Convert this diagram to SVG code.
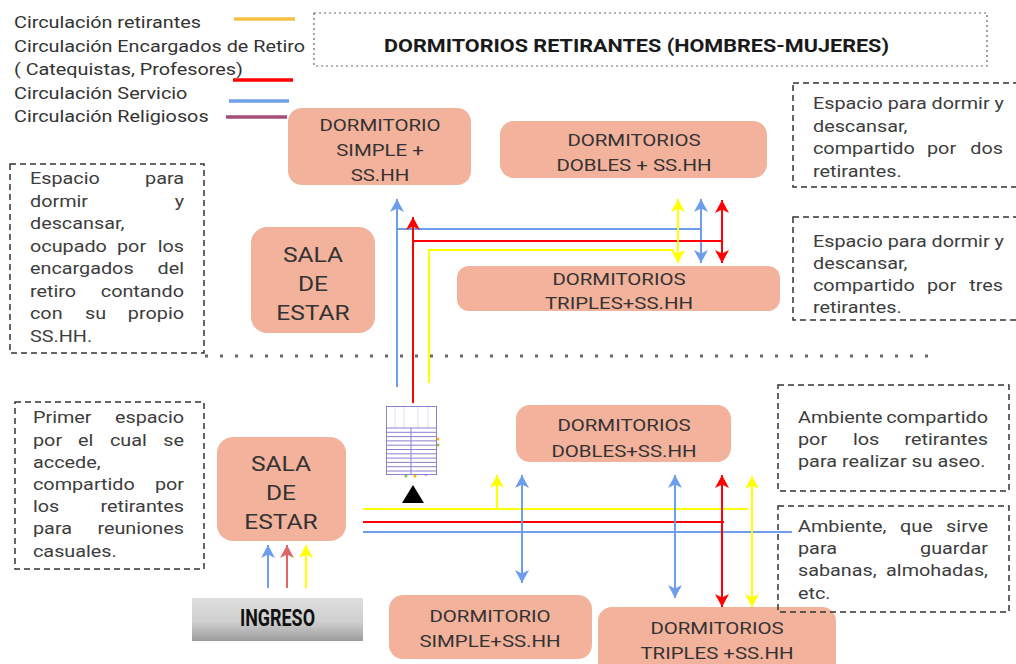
<svg xmlns="http://www.w3.org/2000/svg" width="1016" height="664" viewBox="0 0 1016 664">
<style>
text{font-family:Roboto,"Liberation Sans",sans-serif}
.lg{font-size:16.5px;fill:#333}
.d{font-size:16.5px;fill:#3d3d3d}
.e{text-anchor:end}
.n{font-size:17.3px;fill:#333;text-anchor:middle}
.s{font-size:20.8px;fill:#333;text-anchor:middle}
.node{fill:#F3B29B}
.box{fill:none;stroke:#333;stroke-width:1.5;stroke-dasharray:6 4}
.c{fill:none;stroke-width:2}
.y{stroke:#FFFF00}
.r{stroke:#FF0000}
.b{stroke:#6D9EEB}
.st{fill:none;stroke:#8D7FD0;stroke-width:1}
</style>
<defs>
<marker id="aY" markerUnits="userSpaceOnUse" markerWidth="13" markerHeight="14" refX="13" refY="7" orient="auto-start-reverse"><path d="M13,7 L0,0 L3.5,7 L0,14 Z" fill="#FFFF00"/></marker>
<marker id="aR" markerUnits="userSpaceOnUse" markerWidth="13" markerHeight="14" refX="13" refY="7" orient="auto-start-reverse"><path d="M13,7 L0,0 L3.5,7 L0,14 Z" fill="#FF0000"/></marker>
<marker id="aB" markerUnits="userSpaceOnUse" markerWidth="13" markerHeight="14" refX="13" refY="7" orient="auto-start-reverse"><path d="M13,7 L0,0 L3.5,7 L0,14 Z" fill="#6D9EEB"/></marker>
<marker id="aP" markerUnits="userSpaceOnUse" markerWidth="13" markerHeight="14" refX="13" refY="7" orient="auto-start-reverse"><path d="M13,7 L0,0 L3.5,7 L0,14 Z" fill="#E06666"/></marker>
<linearGradient id="gIn" x1="0" y1="0" x2="0" y2="1">
<stop offset="0" stop-color="#dedede"/><stop offset="0.55" stop-color="#cfcfcf"/><stop offset="1" stop-color="#9c9c9c"/>
</linearGradient>
</defs>
<rect width="1016" height="664" fill="#fff"/>

<g id="legend">
<text class="lg" transform="matrix(1.2 0 0 1 14 28)">Circulación retirantes</text>
<text class="lg" transform="matrix(1.2 0 0 1 14 52)">Circulación Encargados de Retiro</text>
<text class="lg" transform="matrix(1.2 0 0 1 14 75)">( Catequistas, Profesores)</text>
<text class="lg" transform="matrix(1.2 0 0 1 14 99)">Circulación Servicio</text>
<text class="lg" transform="matrix(1.2 0 0 1 14 122)">Circulación Religiosos</text>
<line x1="234" y1="19" x2="295" y2="19" stroke="#F6C142" stroke-width="3.5"/>
<line x1="233" y1="80" x2="293" y2="80" stroke="#FF0000" stroke-width="3.5"/>
<line x1="229" y1="101" x2="289" y2="101" stroke="#6FA0E8" stroke-width="3.5"/>
<line x1="226" y1="117" x2="287" y2="117" stroke="#A64D79" stroke-width="3.5"/>
</g>

<g id="title">
<rect x="314" y="13" width="673" height="53" fill="none" stroke="#666" stroke-width="1.2" stroke-dasharray="2 3"/>
<text x="384" y="52" font-size="19" font-weight="bold" fill="#1a1a1a" textLength="505" lengthAdjust="spacingAndGlyphs">DORMITORIOS RETIRANTES (HOMBRES-MUJERES)</text>
</g>

<g id="divider">
<line x1="205" y1="356" x2="932" y2="356" stroke="#666" stroke-width="3" stroke-dasharray="3 12"/>
</g>

<g id="connectors">
<path class="c b" d="M397,387 V199" marker-end="url(#aB)"/>
<path class="c b" d="M397,229 H701"/>
<path class="c b" d="M701,199 V263" marker-start="url(#aB)" marker-end="url(#aB)"/>
<path class="c r" d="M413,403 V217" marker-end="url(#aR)"/>
<path class="c r" d="M413,241 H722"/>
<path class="c r" d="M722,200 V263" marker-start="url(#aR)" marker-end="url(#aR)"/>
<path class="c y" d="M429,383 V250 H674"/>
<path class="c y" d="M678,199 V263" marker-start="url(#aY)" marker-end="url(#aY)"/>

<path class="c y" d="M363,509 H748"/>
<path class="c r" d="M363,522 H724"/>
<path class="c b" d="M363,532 H792"/>
<path class="c y" d="M497,509 V475" marker-end="url(#aY)"/>
<path class="c b" d="M522,475 V583" marker-start="url(#aB)" marker-end="url(#aB)"/>
<path class="c b" d="M675,475 V598" marker-start="url(#aB)" marker-end="url(#aB)"/>
<path class="c r" d="M722,475 V607" marker-start="url(#aR)" marker-end="url(#aR)"/>
<path class="c y" d="M752,476 V607" marker-start="url(#aY)" marker-end="url(#aY)"/>

<path class="c b" d="M268,588 V545" marker-end="url(#aB)"/>
<path class="c" stroke="#E06666" d="M287,588 V545" marker-end="url(#aP)"/>
<path class="c y" d="M306,588 V545" marker-end="url(#aY)"/>
</g>

<g id="stairs">
<rect class="st" x="386.5" y="406.5" width="50" height="68"/>
<path class="st" stroke-opacity="0.25" d="M395,407 V428 M404,407 V428 M418,407 V428 M428,407 V428"/>
<path class="st" d="M387,428 H436 M387,432.3 H436 M387,436.6 H436 M387,440.9 H436 M387,445.2 H436 M387,449.5 H436 M387,453.8 H436 M387,458.1 H436 M387,462.4 H436 M387,466.7 H436 M387,471 H436 M411,428 V474"/>
<circle cx="438" cy="439" r="1.5" fill="#F4B400"/>
<circle cx="438" cy="445" r="1.5" fill="#8BC34A"/>
<circle cx="406" cy="476" r="1.5" fill="#8BC34A"/>
<circle cx="415" cy="476" r="1.5" fill="#F4B400"/>
<circle cx="426" cy="475" r="1" fill="#D05CE0"/>
<polygon points="413,485 402,503 424,503" fill="#000"/>
</g>

<g id="n-simple-top">
<rect class="node" x="288" y="108" width="183" height="77" rx="14"/>
<text class="n" transform="matrix(1.18 0 0 1 380 131)">DORMITORIO</text>
<text class="n" transform="matrix(1.18 0 0 1 380 156)">SIMPLE +</text>
<text class="n" transform="matrix(1.18 0 0 1 380 181)">SS.HH</text>
</g>
<g id="n-dobles-top">
<rect class="node" x="500" y="121" width="267" height="57" rx="14"/>
<text class="n" transform="matrix(1.18 0 0 1 634 146)">DORMITORIOS</text>
<text class="n" transform="matrix(1.18 0 0 1 634 171)">DOBLES  + SS.HH</text>
</g>
<g id="n-sala-top">
<rect class="node" x="251" y="227" width="124" height="106" rx="16"/>
<text class="s" transform="matrix(1.18 0 0 1 313 262)">SALA</text>
<text class="s" transform="matrix(1.18 0 0 1 313 291)">DE</text>
<text class="s" transform="matrix(1.18 0 0 1 313 320)">ESTAR</text>
</g>
<g id="n-triples-top">
<rect class="node" x="457" y="266" width="323" height="45" rx="12"/>
<text class="n" transform="matrix(1.18 0 0 1 619 285)">DORMITORIOS</text>
<text class="n" transform="matrix(1.18 0 0 1 619 309)">TRIPLES+SS.HH</text>
</g>
<g id="n-dobles-bottom">
<rect class="node" x="516" y="405" width="215" height="57" rx="14"/>
<text class="n" transform="matrix(1.18 0 0 1 624 431)">DORMITORIOS</text>
<text class="n" transform="matrix(1.18 0 0 1 624 457)">DOBLES+SS.HH</text>
</g>
<g id="n-sala-bottom">
<rect class="node" x="217" y="437" width="129" height="104" rx="16"/>
<text class="s" transform="matrix(1.18 0 0 1 281 471)">SALA</text>
<text class="s" transform="matrix(1.18 0 0 1 281 500)">DE</text>
<text class="s" transform="matrix(1.18 0 0 1 281 529)">ESTAR</text>
</g>
<g id="n-simple-bottom">
<rect class="node" x="389" y="595" width="203" height="64" rx="14"/>
<text class="n" transform="matrix(1.18 0 0 1 490 622)">DORMITORIO</text>
<text class="n" transform="matrix(1.18 0 0 1 490 647)">SIMPLE+SS.HH</text>
</g>
<g id="n-triples-bottom">
<rect class="node" x="598" y="607" width="238" height="70" rx="14"/>
<text class="n" transform="matrix(1.18 0 0 1 717 634)">DORMITORIOS</text>
<text class="n" transform="matrix(1.18 0 0 1 717 659)">TRIPLES +SS.HH</text>
</g>
<g id="n-ingreso">
<rect x="192" y="598" width="171" height="43" fill="url(#gIn)"/>
<text x="240" y="626" font-size="24" font-weight="bold" fill="#111" textLength="75" lengthAdjust="spacingAndGlyphs">INGRESO</text>
</g>

<g id="note-simple">
<rect class="box" x="10" y="164" width="194" height="189"/>
<text class="d" transform="matrix(1.2 0 0 1 30 184)">Espacio</text>
<text class="d e" transform="matrix(1.2 0 0 1 184 184)">para</text>
<text class="d" transform="matrix(1.2 0 0 1 30 207)">dormir</text>
<text class="d e" transform="matrix(1.2 0 0 1 184 207)">y</text>
<text class="d" transform="matrix(1.2 0 0 1 30 229)">descansar,</text>
<text class="d" transform="matrix(1.2 0 0 1 30 252)">ocupado</text>
<text class="d" transform="matrix(1.2 0 0 1 117 252)">por</text>
<text class="d e" transform="matrix(1.2 0 0 1 184 252)">los</text>
<text class="d" transform="matrix(1.2 0 0 1 30 274)">encargados</text>
<text class="d e" transform="matrix(1.2 0 0 1 184 274)">del</text>
<text class="d" transform="matrix(1.2 0 0 1 30 297)">retiro</text>
<text class="d e" transform="matrix(1.2 0 0 1 184 297)">contando</text>
<text class="d" transform="matrix(1.2 0 0 1 30 319)">con</text>
<text class="d" transform="matrix(1.2 0 0 1 85 319)">su</text>
<text class="d e" transform="matrix(1.2 0 0 1 184 319)">propio</text>
<text class="d" transform="matrix(1.2 0 0 1 30 342)">SS.HH.</text>
</g>

<g id="note-dobles">
<rect class="box" x="793" y="83" width="240" height="104"/>
<text class="d" transform="matrix(1.2 0 0 1 813 109)">Espacio para dormir y</text>
<text class="d" transform="matrix(1.2 0 0 1 813 132)">descansar,</text>
<text class="d" transform="matrix(1.2 0 0 1 813 154)">compartido</text>
<text class="d" transform="matrix(1.2 0 0 1 927 154)">por</text>
<text class="d e" transform="matrix(1.2 0 0 1 1003 154)">dos</text>
<text class="d" transform="matrix(1.2 0 0 1 813 177)">retirantes.</text>
</g>

<g id="note-triples">
<rect class="box" x="793" y="217" width="240" height="103"/>
<text class="d" transform="matrix(1.2 0 0 1 813 247)">Espacio para dormir y</text>
<text class="d" transform="matrix(1.2 0 0 1 813 269)">descansar,</text>
<text class="d" transform="matrix(1.2 0 0 1 813 291)">compartido</text>
<text class="d" transform="matrix(1.2 0 0 1 927 291)">por</text>
<text class="d e" transform="matrix(1.2 0 0 1 1003 291)">tres</text>
<text class="d" transform="matrix(1.2 0 0 1 813 313)">retirantes.</text>
</g>

<g id="note-sala">
<rect class="box" x="15" y="402" width="189" height="167"/>
<text class="d" transform="matrix(1.2 0 0 1 33 423)">Primer</text>
<text class="d e" transform="matrix(1.2 0 0 1 184 423)">espacio</text>
<text class="d" transform="matrix(1.2 0 0 1 33 446)">por</text>
<text class="d" transform="matrix(1.2 0 0 1 78 446)">el</text>
<text class="d" transform="matrix(1.2 0 0 1 110 446)">cual</text>
<text class="d e" transform="matrix(1.2 0 0 1 184 446)">se</text>
<text class="d" transform="matrix(1.2 0 0 1 33 468)">accede,</text>
<text class="d" transform="matrix(1.2 0 0 1 33 490)">compartido</text>
<text class="d e" transform="matrix(1.2 0 0 1 184 490)">por</text>
<text class="d" transform="matrix(1.2 0 0 1 33 512)">los</text>
<text class="d e" transform="matrix(1.2 0 0 1 184 512)">retirantes</text>
<text class="d" transform="matrix(1.2 0 0 1 33 534)">para</text>
<text class="d e" transform="matrix(1.2 0 0 1 184 534)">reuniones</text>
<text class="d" transform="matrix(1.2 0 0 1 33 557)">casuales.</text>
</g>

<g id="note-aseo">
<rect class="box" x="778" y="385" width="231" height="106"/>
<text class="d" transform="matrix(1.2 0 0 1 798 423)">Ambiente</text>
<text class="d e" transform="matrix(1.2 0 0 1 988 423)">compartido</text>
<text class="d" transform="matrix(1.2 0 0 1 798 445)">por</text>
<text class="d" transform="matrix(1.2 0 0 1 853 445)">los</text>
<text class="d e" transform="matrix(1.2 0 0 1 988 445)">retirantes</text>
<text class="d" transform="matrix(1.2 0 0 1 798 467)">para realizar su aseo.</text>
</g>

<g id="note-ropa">
<rect class="box" x="778" y="506" width="231" height="106"/>
<text class="d" transform="matrix(1.2 0 0 1 798 532)">Ambiente,</text>
<text class="d" transform="matrix(1.2 0 0 1 900 532)">que</text>
<text class="d e" transform="matrix(1.2 0 0 1 988 532)">sirve</text>
<text class="d" transform="matrix(1.2 0 0 1 798 554)">para</text>
<text class="d e" transform="matrix(1.2 0 0 1 988 554)">guardar</text>
<text class="d" transform="matrix(1.2 0 0 1 798 576)">sabanas,</text>
<text class="d e" transform="matrix(1.2 0 0 1 988 576)">almohadas,</text>
<text class="d" transform="matrix(1.2 0 0 1 798 599)">etc.</text>
</g>
</svg>
